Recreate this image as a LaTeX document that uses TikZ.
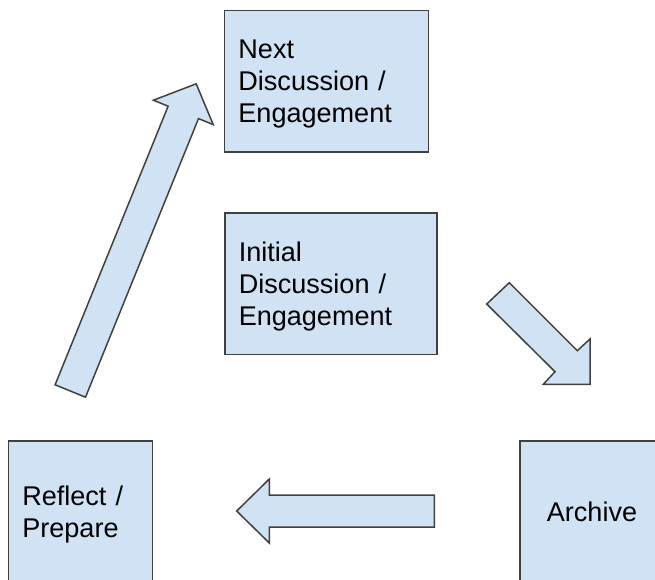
\documentclass[tikz,border=0pt]{standalone}
\usepackage{fontspec}
\setmainfont{Liberation Sans}

\definecolor{boxfill}{RGB}{208,226,243}
\definecolor{boxline}{RGB}{64,64,64}

\begin{document}
\begin{tikzpicture}[x=0.02cm, y=-0.02cm,
  stage/.style={draw=boxline, fill=boxfill, line width=0.85pt, align=left,
    inner xsep=0.28cm, minimum height=2.83cm,
    font=\fontsize{15.4}{18.2}\selectfont},
  multiline/.style={execute at begin node={\rule{0pt}{14pt}}},
  blockarrow/.style={draw=boxline, fill=boxfill, line width=0.85pt, line join=miter}]

% Page
\useasboundingbox (0,0) rectangle (655,579);
\clip (0,0) rectangle (655,579);

% Stages
\node[stage, multiline, text width=3.52cm] (next) at (326.4,81.4) {Next\\Discussion /\\Engagement};
\node[stage, multiline, text width=3.69cm] (initial) at (331,283.8) {Initial\\Discussion /\\Engagement};
\node[stage, multiline, text width=2.32cm] (reflect) at (80.3,511.7) {Reflect /\\Prepare};
\node[stage, text width=2.32cm, align=center] (archive) at (592,511.7) {Archive};

% Block arrows
\draw[blockarrow] (509.3,282.7) -- (577.3,350.7) -- (590,339) -- (590,384.3)
  -- (543.3,384.3) -- (555,371.7) -- (486.7,304) -- cycle; % to archive
\draw[blockarrow] (434.3,495) -- (269.3,495) -- (269.3,479) -- (236.7,511)
  -- (269.3,543) -- (269.3,527) -- (434.3,527) -- cycle; % to reflect
\draw[blockarrow] (55.1,384.8) -- (85.5,397.2) -- (198.5,118.6) -- (213.2,124.6)
  -- (196.2,83.8) -- (153.4,100.2) -- (168.1,106.2) -- cycle; % to next

\end{tikzpicture}
\end{document}
